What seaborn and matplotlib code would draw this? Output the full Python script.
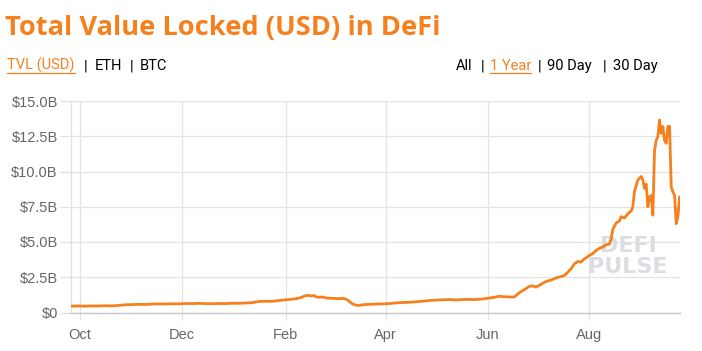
"""
Total Value Locked (USD) in DeFi, one year view.
"""
import numpy as np
import pandas as pd
import matplotlib
matplotlib.use("Agg")
from matplotlib import pyplot as plt
from matplotlib import dates as mdates
from matplotlib.lines import Line2D
import seaborn as sns

# Data (billions of USD)
dates = [
    "2019-09-26", "2019-09-30", "2019-10-04", "2019-10-08", "2019-10-12", "2019-10-16",
    "2019-10-20", "2019-10-24", "2019-10-28", "2019-11-01", "2019-11-05", "2019-11-09",
    "2019-11-13", "2019-11-17", "2019-11-21", "2019-11-25", "2019-11-29", "2019-12-03",
    "2019-12-07", "2019-12-11", "2019-12-15", "2019-12-19", "2019-12-23", "2019-12-27",
    "2019-12-31", "2020-01-04", "2020-01-08", "2020-01-12", "2020-01-16", "2020-01-20",
    "2020-01-24", "2020-01-28", "2020-02-01", "2020-02-04", "2020-02-07", "2020-02-10",
    "2020-02-12", "2020-02-14", "2020-02-16", "2020-02-18", "2020-02-20", "2020-02-23",
    "2020-02-26", "2020-03-01", "2020-03-04", "2020-03-07", "2020-03-09", "2020-03-12",
    "2020-03-14", "2020-03-16", "2020-03-19", "2020-03-22", "2020-03-26", "2020-03-30",
    "2020-04-03", "2020-04-07", "2020-04-11", "2020-04-15", "2020-04-19", "2020-04-23",
    "2020-04-27", "2020-05-01", "2020-05-05", "2020-05-09", "2020-05-13", "2020-05-17",
    "2020-05-21", "2020-05-25", "2020-05-29", "2020-06-02", "2020-06-05", "2020-06-08",
    "2020-06-11", "2020-06-14", "2020-06-17", "2020-06-20", "2020-06-23", "2020-06-26",
    "2020-06-28", "2020-06-30", "2020-07-03", "2020-07-06", "2020-07-09", "2020-07-12",
    "2020-07-15", "2020-07-17", "2020-07-19", "2020-07-21", "2020-07-23", "2020-07-25",
    "2020-07-27", "2020-07-29", "2020-08-01", "2020-08-03", "2020-08-05", "2020-08-07",
    "2020-08-09", "2020-08-11", "2020-08-13", "2020-08-14", "2020-08-15", "2020-08-17",
    "2020-08-19", "2020-08-20", "2020-08-22", "2020-08-24", "2020-08-26", "2020-08-27",
    "2020-08-28", "2020-08-30", "2020-09-01", "2020-09-02", "2020-09-03", "2020-09-04",
    "2020-09-05", "2020-09-06", "2020-09-07", "2020-09-08", "2020-09-09", "2020-09-10",
    "2020-09-11", "2020-09-12", "2020-09-13", "2020-09-14", "2020-09-15", "2020-09-16",
    "2020-09-17", "2020-09-18", "2020-09-19", "2020-09-20", "2020-09-21", "2020-09-22",
    "2020-09-23", "2020-09-24",
]
tvl = [
    0.45, 0.46, 0.45, 0.47, 0.46, 0.48,
    0.47, 0.50, 0.55, 0.56, 0.58, 0.57,
    0.60, 0.61, 0.60, 0.62, 0.61, 0.64,
    0.63, 0.65, 0.63, 0.62, 0.64, 0.63,
    0.66, 0.65, 0.67, 0.70, 0.78, 0.80,
    0.79, 0.85, 0.90, 0.93, 0.97, 1.05,
    1.15, 1.22, 1.18, 1.20, 1.08, 1.10,
    1.02, 1.00, 0.98, 1.00, 0.90, 0.62,
    0.52, 0.50, 0.56, 0.58, 0.60, 0.61,
    0.63, 0.68, 0.71, 0.72, 0.76, 0.80,
    0.85, 0.88, 0.90, 0.92, 0.89, 0.92,
    0.93, 0.92, 0.96, 1.02, 1.08, 1.15,
    1.12, 1.10, 1.10, 1.40, 1.62, 1.85,
    1.90, 1.80, 2.00, 2.20, 2.30, 2.45,
    2.55, 2.63, 2.85, 3.10, 3.45, 3.62,
    3.58, 3.80, 4.05, 4.17, 4.40, 4.55,
    4.65, 4.80, 4.85, 5.20, 5.90, 6.35,
    6.50, 6.80, 6.70, 7.00, 7.20, 7.50,
    8.60, 9.40, 9.65, 9.40, 8.80, 9.10,
    7.50, 8.20, 8.30, 6.90, 11.50, 12.20,
    12.50, 13.65, 12.70, 13.20, 12.20, 12.00,
    13.20, 13.20, 8.90, 8.55, 8.30, 6.30,
    6.80, 8.20,
]
y_ticks = [0, 2.5, 5, 7.5, 10, 12.5, 15]
y_labels = ["$0", "$2.5B", "$5.0B", "$7.5B", "$10.0B", "$12.5B", "$15.0B"]
month_ticks = ["2019-10-01", "2019-12-01", "2020-02-01", "2020-04-01", "2020-06-01", "2020-08-01"]

orange = "#F7801E"
W, H = 702, 351


def fx(px):
    return px / W


def fy(py):
    return 1 - py / H


def underline(fig, txt, y_px, color):
    r = fig.canvas.get_renderer()
    bb = txt.get_window_extent(renderer=r)
    fig.add_artist(Line2D([bb.x0 / W, bb.x1 / W], [fy(y_px), fy(y_px)],
                          transform=fig.transFigure, color=color, lw=0.9))


df = pd.DataFrame({"date": pd.to_datetime(dates), "tvl": tvl})

sns.set_style("white")
plt.rcParams["font.family"] = ["Liberation Sans", "DejaVu Sans"]

fig = plt.figure(figsize=(7.02, 3.51), dpi=100)
ax = fig.add_axes([fx(71), fy(312.5), fx(680) - fx(71), fy(101) - fy(312.5)])

sns.lineplot(data=df, x="date", y="tvl", color=orange, lw=2.0, ax=ax, zorder=5)

# Axes formatting
ax.set_xlim(pd.Timestamp("2019-09-25 12:00"), pd.Timestamp("2020-09-24 06:00"))
ax.set_ylim(0, 15)
ax.set_yticks(y_ticks)
ax.set_yticklabels(y_labels)
ax.set_xticks(pd.to_datetime(month_ticks))
ax.xaxis.set_major_formatter(mdates.DateFormatter("%b"))
ax.set_xlabel("")
ax.set_ylabel("")
ax.grid(True, color="#e3e3e3", lw=0.9)
ax.set_axisbelow(True)
for s in ["top", "right"]:
    ax.spines[s].set_visible(False)
ax.spines["left"].set_color("#e0e0e0")
ax.spines["bottom"].set_color("#c8c8cc")
ax.spines["left"].set_linewidth(0.9)
ax.spines["bottom"].set_linewidth(1.0)
ax.tick_params(axis="y", length=8, width=0.9, color="#e0e0e0", pad=1.5,
               labelsize=10.5, labelcolor="#666666", left=True)
ax.tick_params(axis="x", length=5, width=0.9, color="#e3e3e3", pad=6,
               labelsize=10.5, labelcolor="#666666", bottom=True)

# Watermark
ax.text(0.915, 0.265, "DEFI\nPULSE", transform=ax.transAxes, ha="center", va="center",
        fontsize=16, weight="bold", color="#dcdce3", linespacing=1.05,
        family=["DejaVu Sans"], zorder=2)

# Title
title = fig.text(fx(5), fy(35), "Total Value Locked (USD) in DeFi", color=orange,
                 fontsize=20, weight="bold", family=["Open Sans", "DejaVu Sans"],
                 ha="left", va="baseline")
fig.canvas.draw()
bb = title.get_window_extent(renderer=fig.canvas.get_renderer())
title.set_fontsize(20 * 436 / bb.width)

# Link rows
row_y = 70
row_font = dict(fontsize=10.5, family=["Roboto", "DejaVu Sans"], va="baseline", ha="left")
parts = [
    (7, "TVL (USD)", orange, True), (84, "|", "black", False), (95, "ETH", "black", False),
    (130, "|", "black", False), (140, "BTC", "black", False),
    (456, "All", "black", False), (481, "|", "black", False), (490, "1 Year", orange, True),
    (538, "|", "black", False), (547, "90 Day", "black", False), (603, "|", "black", False),
    (613, "30 Day", "black", False),
]
fig.canvas.draw()
for x, s, c, ul in parts:
    t = fig.text(fx(x), fy(row_y), s, color=c, **row_font)
    if ul:
        underline(fig, t, row_y + 2.5, c)

plt.savefig("out.png", dpi=100)
